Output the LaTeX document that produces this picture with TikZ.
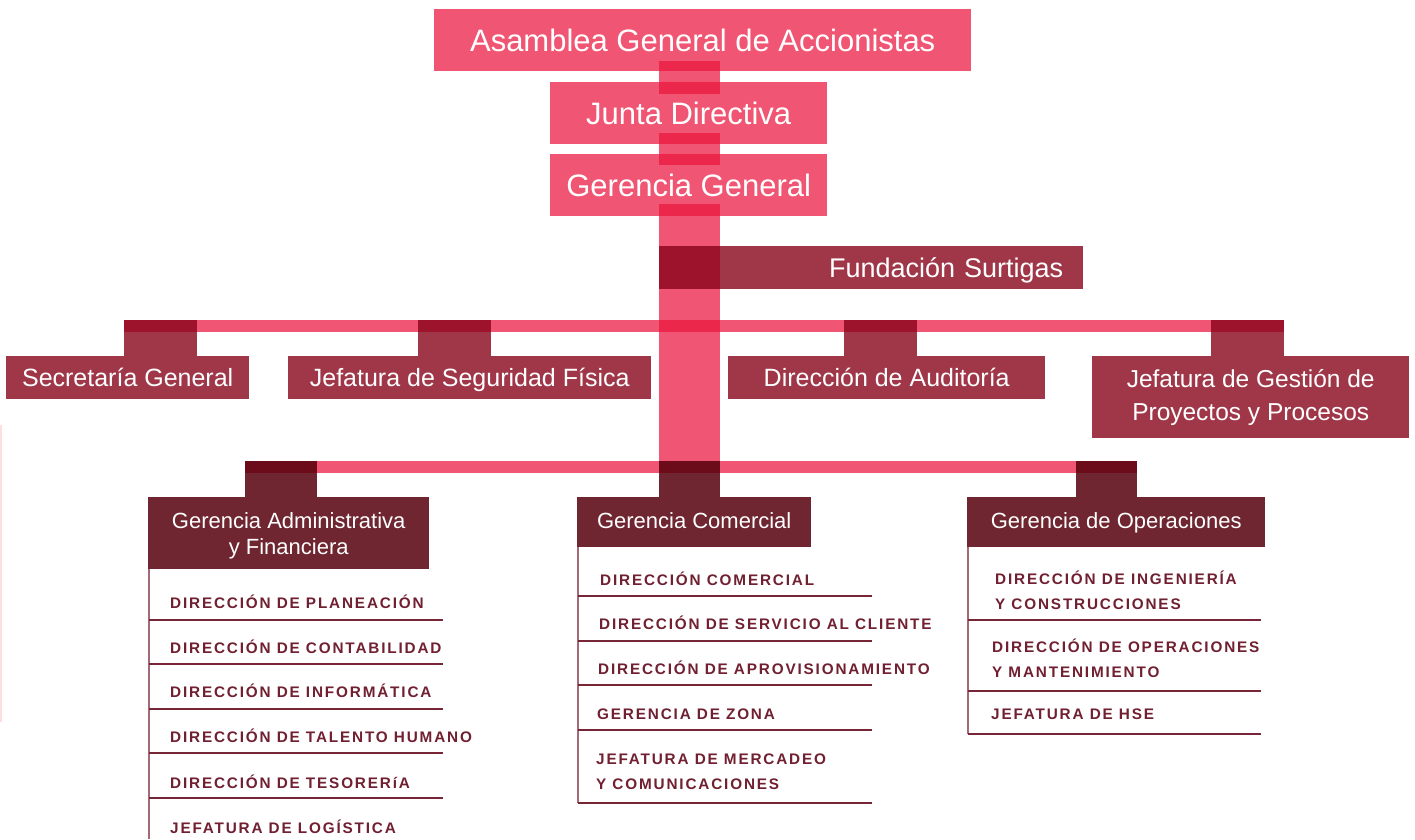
\documentclass[tikz,border=0pt]{standalone}
\usepackage{fontspec}
\setmainfont{Liberation Sans}
\newfontfamily\listfont{Liberation Sans}[LetterSpace=12]
\usetikzlibrary{calc}
\definecolor{pinkC}{RGB}{235,21,62}
\definecolor{mOne}{RGB}{135,2,25}
\definecolor{mTwo}{RGB}{86,0,12}
\definecolor{listC}{RGB}{112,32,48}
\definecolor{sepC}{RGB}{118,38,55}
\definecolor{vlineC}{RGB}{165,105,118}
\definecolor{faintC}{RGB}{255,222,222}
\tikzset{
  pinkbox/.style={fill=pinkC, fill opacity=0.72, text opacity=1, text=white, inner sep=0pt,
    anchor=north west, font=\fontsize{31}{37}\selectfont, text height=22pt, text depth=0pt},
  onebox/.style={fill=mOne, fill opacity=0.79, text opacity=1, text=white, inner sep=0pt,
    anchor=north west, font=\fontsize{25}{33}\selectfont, align=center},
  twobox/.style={fill=mTwo, fill opacity=0.85, text opacity=1, text=white, inner sep=0pt,
    anchor=north west, font=\fontsize{22}{26}\selectfont, align=center},
  capone/.style={text height=18pt, text depth=0pt},
  captwo/.style={text height=15.75pt, text depth=3pt},
  trunk/.style={draw=pinkC, draw opacity=0.72, line width=61pt},
  hbar/.style={draw=pinkC, draw opacity=0.72, line width=12.5pt},
  stubone/.style={draw=mOne, draw opacity=0.79, line width=73pt},
  stubtwo/.style={draw=mTwo, draw opacity=0.85},
  listtext/.style={anchor=base west, inner sep=0pt, text=listC,
    font=\listfont\bfseries\fontsize{15.3}{25}\selectfont, align=left},
  sepline/.style={draw=sepC, line width=1.4pt},
  vline/.style={draw=vlineC, line width=1.4pt},
}
\begin{document}
\begin{tikzpicture}[x=1pt, y=-1pt]
\useasboundingbox (0,0) rectangle (1415,839);
\fill[white] (0,0) rectangle (1415,839);
\draw[faintC, line width=1.5pt] (1,425) -- (1,722);

% top boxes
\node[pinkbox, minimum width=537pt, minimum height=62pt] (asam) at (434,9) {Asamblea General de Accionistas};
\node[pinkbox, minimum width=277pt, minimum height=62pt] (junta) at (550,82) {Junta Directiva};
\node[pinkbox, minimum width=277pt, minimum height=62pt] (gg) at (550,154) {Gerencia General};

% trunk and bars
\coordinate (tx) at (689.5,0);
\coordinate (b1) at (0,326);
\coordinate (b2) at (0,467);
\draw[trunk] ($(asam.south -| tx)+(0,-10)$) -- ($(junta.north -| tx)+(0,12)$);
\draw[trunk] ($(junta.south -| tx)+(0,-11)$) -- ($(gg.north -| tx)+(0,11)$);
\draw[trunk] ($(gg.south -| tx)+(0,-12)$) -- ($(tx |- b2)+(0,-6.25)$);

\coordinate (s1) at (160.5,0);
\coordinate (s2) at (454.5,0);
\coordinate (s3) at (880.5,0);
\coordinate (s4) at (1247.5,0);
\coordinate (t1) at (281,0);
\coordinate (t2) at (689.5,0);
\coordinate (t3) at (1106.5,0);
\draw[hbar] ($(s1 |- b1)+(-36.5,0)$) -- ($(s4 |- b1)+(36.5,0)$);
\draw[hbar] ($(t1 |- b2)+(-36,0)$) -- ($(t3 |- b2)+(30.5,0)$);

% level one
\node[onebox, capone, minimum width=424pt, minimum height=43pt, text width=384pt, inner xsep=20pt, align=right,
  font=\fontsize{27}{33}\selectfont, text height=19.3pt] (fund) at (659,246) {Fundación Surtigas};
\node[onebox, capone, minimum width=243pt, minimum height=43pt] (sec) at (6,356) {Secretaría General};
\node[onebox, capone, minimum width=363pt, minimum height=43pt] (seg) at (288,356) {Jefatura de Seguridad Física};
\node[onebox, capone, minimum width=317pt, minimum height=43pt] (aud) at (728,356) {Dirección de Auditoría};
\node[onebox, minimum width=317pt, minimum height=82pt, font=\fontsize{24.5}{33}\selectfont] (ges) at (1092,356) {Jefatura de Gestión de\\Proyectos y Procesos};
\draw[stubone] ($(s1 |- b1)+(0,-6)$) -- (s1 |- sec.north);
\draw[stubone] ($(s2 |- b1)+(0,-6)$) -- (s2 |- seg.north);
\draw[stubone] ($(s3 |- b1)+(0,-6)$) -- (s3 |- aud.north);
\draw[stubone] ($(s4 |- b1)+(0,-6)$) -- (s4 |- ges.north);

% level two
\node[twobox, minimum width=281pt, minimum height=72pt, text depth=0pt] (adm) at (148,497) {Gerencia Administrativa\\y Financiera};
\node[twobox, captwo, minimum width=234pt, minimum height=50pt] (com) at (577,497) {Gerencia Comercial};
\node[twobox, captwo, minimum width=298pt, minimum height=50pt] (ops) at (967,497) {Gerencia de Operaciones};
\draw[stubtwo, line width=72pt] ($(t1 |- b2)+(0,-6.25)$) -- (t1 |- adm.north);
\draw[stubtwo, line width=61pt] ($(t2 |- b2)+(0,-6.25)$) -- (t2 |- com.north);
\draw[stubtwo, line width=61pt] ($(t3 |- b2)+(0,-6.25)$) -- (t3 |- ops.north);

% lists
\draw[vline] ($(adm.south west)+(1,0)$) -- (149,839);
\foreach \yy in {620,664,709,753,798} \draw[sepline] (149,\yy) -- (443,\yy);
\draw[vline] ($(com.south west)+(1,0)$) -- (578,803);
\foreach \yy in {596,641,685,730,803} \draw[sepline] (578,\yy) -- (872,\yy);
\draw[vline] ($(ops.south west)+(1,0)$) -- (968,734);
\foreach \yy in {620,691,734} \draw[sepline] (968,\yy) -- (1261,\yy);

\node[listtext] (a1) at (170,608) {DIRECCIÓN DE PLANEACIÓN};
\node[listtext] (a2) at (170,653) {DIRECCIÓN DE CONTABILIDAD};
\node[listtext] (a3) at (170,697) {DIRECCIÓN DE INFORMÁTICA};
\node[listtext] (a4) at (170,742) {DIRECCIÓN DE TALENTO HUMANO};
\node[listtext] (a5) at (170,788) {DIRECCIÓN DE TESORERíA};
\node[listtext] (a6) at (170,833) {JEFATURA DE LOGÍSTICA};

\node[listtext] (c1) at (600,585) {DIRECCIÓN COMERCIAL};
\node[listtext] (c2) at (599,629) {DIRECCIÓN DE SERVICIO AL CLIENTE};
\node[listtext] (c3) at (598,674) {DIRECCIÓN DE APROVISIONAMIENTO};
\node[listtext] (c4) at (597,719) {GERENCIA DE ZONA};
\node[listtext] (c5) at (596,789) {JEFATURA DE MERCADEO\\Y COMUNICACIONES};

\node[listtext] (o1) at (995,609) {DIRECCIÓN DE INGENIERÍA\\Y CONSTRUCCIONES};
\node[listtext] (o2) at (992,677) {DIRECCIÓN DE OPERACIONES\\Y MANTENIMIENTO};
\node[listtext] (o3) at (991,719) {JEFATURA DE HSE};
\end{tikzpicture}
\end{document}
